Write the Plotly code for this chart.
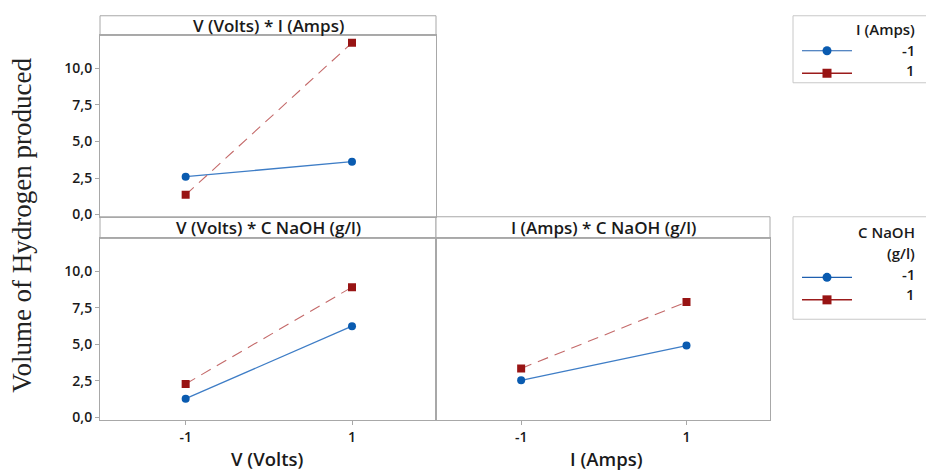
import plotly.graph_objects as go

# ---- data ----
levels = [-1, 1]
vi_I_minus = [2.59, 3.62]    # V (Volts) * I (Amps), I = -1
vi_I_plus = [1.35, 11.75]    # I = 1
vc_C_minus = [1.29, 6.25]    # V (Volts) * C NaOH, C = -1
vc_C_plus = [2.30, 8.92]     # C = 1
ic_C_minus = [2.55, 4.92]    # I (Amps) * C NaOH, C = -1
ic_C_plus = [3.36, 7.90]     # C = 1
y_ticks = [0, 2.5, 5, 7.5, 10]
x_ticks = [-1, 1]
x_tick_labels = ["-1", "1"]
legend_labels = ["-1", "1"]

W, H = 926, 476
def px(x):
    return x / W
def py(y):
    return 1 - y / H

BLUE_M = "#0A5BB0"
BLUE_L = "#3E7DC6"
RED_M = "#981414"
RED_L = "#C46A6A"
GRID = "#A8A8A8"
FONT = "Open Sans"
TXT = "#1a1a1a"

fig = go.Figure()

def add_pair(xa, ya, lo, hi):
    fig.add_trace(go.Scatter(x=levels, y=lo, xaxis=xa, yaxis=ya, mode="lines+markers",
                             name="-1", showlegend=False,
                             line=dict(color=BLUE_L, width=1.3),
                             marker=dict(color=BLUE_M, size=8, symbol="circle")))
    fig.add_trace(go.Scatter(x=levels, y=hi, xaxis=xa, yaxis=ya, mode="lines+markers",
                             name="1", showlegend=False,
                             line=dict(color=RED_L, width=1.1, dash="11px,7px"),
                             marker=dict(color=RED_M, size=8, symbol="square")))

add_pair("x", "y", vi_I_minus, vi_I_plus)
add_pair("x2", "y2", vc_C_minus, vc_C_plus)
add_pair("x3", "y3", ic_C_minus, ic_C_plus)

# legend-only entries (solid symbols as in the reference legend)
for leg in ["legend", "legend2"]:
    fig.add_trace(go.Scatter(x=[None], y=[None], mode="lines+markers", name=" ", legend=leg,
                             line=dict(color="#1F5FAF", width=1.2),
                             marker=dict(color=BLUE_M, size=9, symbol="circle")))
    fig.add_trace(go.Scatter(x=[None], y=[None], mode="lines+markers", name=" ", legend=leg,
                             line=dict(color="#9B1B1B", width=1.5),
                             marker=dict(color=RED_M, size=9, symbol="square")))

xr = [-2.03, 2.01]
yr = [-0.15, 12.25]

TICKFONT = dict(family=FONT, size=14, color=TXT, weight=600)
common_x = dict(range=xr, showgrid=False, zeroline=False, showline=True, linecolor=GRID,
                linewidth=1, mirror=True, tickvals=x_ticks, ticktext=x_tick_labels,
                tickfont=TICKFONT)
common_y = dict(range=yr, showgrid=False, zeroline=False, showline=True, linecolor=GRID,
                linewidth=1, mirror=True, tickvals=y_ticks, tickformat=".1f",
                tickfont=TICKFONT)

top_dom = [py(220), py(36)]
bot_dom = [py(426), py(242)]

fig.update_layout(
    xaxis=dict(common_x, domain=[px(100), px(436)], anchor="y", showticklabels=False, ticks=""),
    yaxis=dict(common_y, domain=top_dom, anchor="x", ticks="outside", ticklen=4, tickcolor=GRID),
    xaxis2=dict(common_x, domain=[px(100), px(436)], anchor="y2", ticks="outside", ticklen=4, tickcolor=GRID),
    yaxis2=dict(common_y, domain=bot_dom, anchor="x2", ticks="outside", ticklen=4, tickcolor=GRID),
    xaxis3=dict(common_x, domain=[px(436), px(770)], anchor="y3", ticks="outside", ticklen=4, tickcolor=GRID),
    yaxis3=dict(common_y, domain=bot_dom, anchor="x3", showticklabels=False, ticks=""),
)

# strips
shapes = []
strips = [(100, 436, 16, 36), (100, 436, 220, 242), (436, 770, 220, 242)]
for x0, x1, y0, y1 in strips:
    shapes.append(dict(type="rect", xref="paper", yref="paper", x0=px(x0), x1=px(x1),
                       y0=py(y1), y1=py(y0), line=dict(color=GRID, width=1), fillcolor="white",
                       layer="below"))
# legend boxes
shapes.append(dict(type="rect", xref="paper", yref="paper", x0=px(793), x1=px(940),
                   y0=py(84), y1=py(16), line=dict(color="#C8C8C8", width=1)))
shapes.append(dict(type="rect", xref="paper", yref="paper", x0=px(793), x1=px(940),
                   y0=py(324), y1=py(220), line=dict(color="#C8C8C8", width=1)))

annotations = []
strip_titles = [("V (Volts) * I (Amps)", 268, 26), ("V (Volts) * C NaOH (g/l)", 268, 231),
                ("I (Amps) * C NaOH (g/l)", 603, 231)]
for t, x, y in strip_titles:
    annotations.append(dict(text=t, x=px(x), y=py(y), xref="paper", yref="paper",
                            showarrow=False, xanchor="center", yanchor="middle",
                            font=dict(family=FONT, size=17, color=TXT, weight=600)))
for t, x in [("V (Volts)", 267), ("I (Amps)", 606)]:
    annotations.append(dict(text=t, x=px(x), y=py(465), xref="paper", yref="paper",
                            showarrow=False, xanchor="center", yanchor="middle",
                            font=dict(family=FONT, size=18.5, color=TXT, weight=600)))
annotations.append(dict(text="Volume of Hydrogen produced", x=px(22), y=py(229),
                        xref="paper", yref="paper", showarrow=False, textangle=-90,
                        xanchor="center", yanchor="middle",
                        font=dict(family="Liberation Serif", size=27, color="#222")))

LEGFONT = dict(family=FONT, size=15, color=TXT, weight=600)
# legend titles and labels (right-aligned as in the reference)
legend_texts = [("I (Amps)", 29), (legend_labels[0], 51), (legend_labels[1], 71),
                ("C NaOH", 235), ("(g/l)", 257), (legend_labels[0], 278), (legend_labels[1], 298)]
for t, y in legend_texts:
    annotations.append(dict(text=t, x=px(917), y=py(y), xref="paper", yref="paper",
                            showarrow=False, xanchor="right", yanchor="middle", font=LEGFONT))

leg_common = dict(bgcolor="rgba(0,0,0,0)", borderwidth=0, xanchor="left", yanchor="top",
                  font=LEGFONT, itemwidth=50, tracegroupgap=0)
fig.update_layout(
    width=W, height=H, margin=dict(l=0, r=0, t=0, b=0),
    paper_bgcolor="white", plot_bgcolor="white", separators=", ",
    shapes=shapes, annotations=annotations,
    legend=dict(leg_common, x=px(797), y=py(35)),
    legend2=dict(leg_common, x=px(797), y=py(265)),
)

fig.write_html("out.html", config={"displayModeBar": False},
               post_script="document.body.style.margin='0';document.body.style.padding='0';")
